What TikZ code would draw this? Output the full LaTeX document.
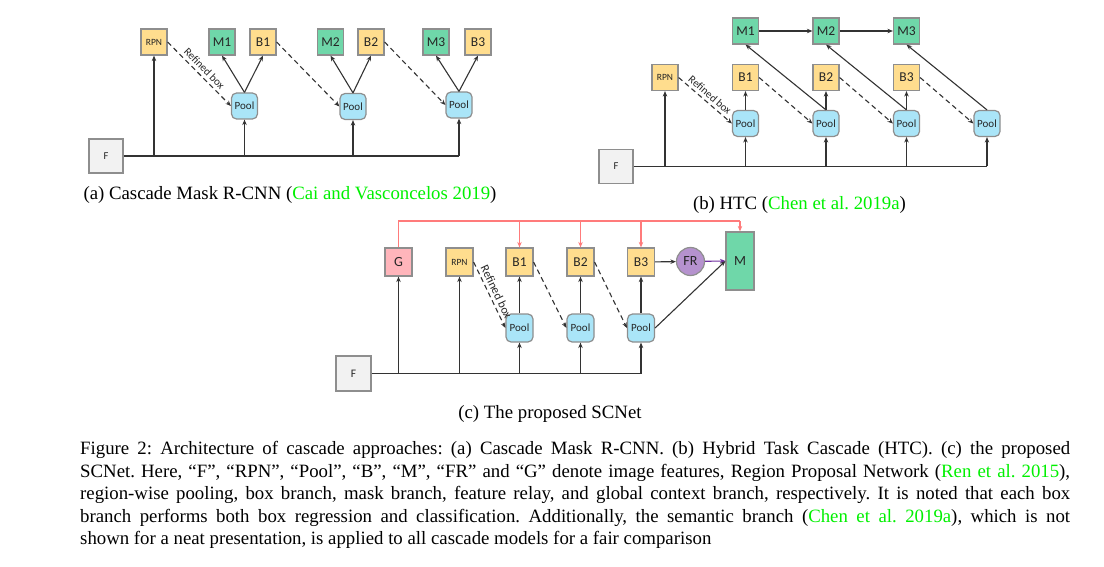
\documentclass[tikz,border=0pt]{standalone}
\usepackage{fontspec}
\setmainfont{Liberation Serif}
\setsansfont{Carlito}
\usetikzlibrary{arrows.meta, calc}
\definecolor{cBox}{HTML}{FFDD8E}
\definecolor{cMask}{HTML}{6FD7A9}
\definecolor{cPool}{HTML}{AAE5F8}
\definecolor{cFeat}{HTML}{F2F2F2}
\definecolor{cGlob}{HTML}{FFB5BB}
\definecolor{cRelay}{HTML}{B592CE}
\definecolor{cEdge}{HTML}{8E8E8E}
\definecolor{cCtx}{HTML}{FF7B7B}
\definecolor{cPurp}{HTML}{7030A0}
\definecolor{cCite}{HTML}{00F000}
\tikzset{
    x=1pt, y=-1pt, font=\sffamily,
    nd/.style={draw=cEdge, line width=1.2pt, inner sep=0pt, text=black!85,
               minimum width=26pt, minimum height=26pt,
               font=\sffamily\fontsize{13.5}{14}\selectfont},
    bx/.style={nd, fill=cBox},
    msk/.style={nd, fill=cMask},
    smalltxt/.style={font=\sffamily\fontsize{9.5}{10}\selectfont},
    pool/.style={nd, fill=cPool, rounded corners=5pt,
                 font=\sffamily\fontsize{11}{12}\selectfont},
    feat/.style={nd, fill=cFeat, minimum width=34pt, minimum height=34pt,
                 font=\sffamily\fontsize{10.5}{11}\selectfont},
    glob/.style={nd, fill=cGlob, minimum width=27pt, minimum height=28pt},
    relay/.style={nd, circle, fill=cRelay, minimum size=28pt},
    arr/.style={-{Stealth[length=5.5pt, width=4.5pt]}, line width=1.1pt, black!80},
    trunk/.style={line width=1.2pt, black!80},
    dsh/.style={arr, dash pattern=on 5pt off 3.5pt},
    ctx/.style={-{Stealth[length=5.5pt, width=4.5pt]}, line width=1.1pt, cCtx},
    lbl/.style={font=\sffamily\fontsize{11}{12}\selectfont, text=black!85,
                inner sep=1pt, above=2pt},
    captxt/.style={font=\rmfamily\fontsize{18.8}{22.5}\selectfont\frenchspacing,
                   inner sep=0pt},
}

\begin{document}
\begin{tikzpicture}
    \useasboundingbox (0,0) rectangle (1104,567);

    % (a) Cascade Mask R-CNN
    \node[feat] (a-f) at (106,156) {F};
    \node[bx, smalltxt] (a-rpn) at (154,42) {RPN};
    \node[msk] (a-m1) at (222,42) {M1};
    \node[bx] (a-b1) at (263,42) {B1};
    \node[pool] (a-p1) at (244.5,106) {Pool};
    \node[msk] (a-m2) at (330.5,42) {M2};
    \node[bx] (a-b2) at (371,42) {B2};
    \node[pool] (a-p2) at (353,106.5) {Pool};
    \node[msk] (a-m3) at (436,42) {M3};
    \node[bx] (a-b3) at (478,42) {B3};
    \node[pool] (a-p3) at (459,105) {Pool};

    \draw[trunk, line width=1.6pt] (a-f.east) -- (a-f.east -| a-p3);
    \foreach \n in {a-rpn, a-p1, a-p2, a-p3}
        \draw[arr] (a-f.east -| \n) -- (\n.south);
    \foreach \i in {1,2,3} {
        \draw[arr] (a-p\i.north) -- (a-m\i.south);
        \draw[arr] (a-p\i.north) -- (a-b\i.south);
    }
    \draw[dsh] (a-rpn.east) -- node[lbl, sloped] {Refined box} (a-p1.west);
    \draw[dsh] (a-b1.east) -- (a-p2.west);
    \draw[dsh] (a-b2.east) -- (a-p3.west);

    \node[captxt, anchor=base] (a-cap) at (290,200)
        {(a) Cascade Mask R-CNN (\textcolor{cCite}{Cai and Vasconcelos 2019})};

    % (b) HTC
    \node[feat] (b-f) at (616,166.5) {F};
    \node[bx, smalltxt] (b-rpn) at (665,77.5) {RPN};
    \node[msk] (b-m1) at (745.5,31) {M1};
    \node[bx] (b-b1) at (745.5,77.5) {B1};
    \node[pool] (b-p1) at (745.5,123.5) {Pool};
    \node[msk] (b-m2) at (826,31) {M2};
    \node[bx] (b-b2) at (826,77.5) {B2};
    \node[pool] (b-p2) at (826,123.5) {Pool};
    \node[msk] (b-m3) at (906.5,31) {M3};
    \node[bx] (b-b3) at (906.5,77.5) {B3};
    \node[pool] (b-p3) at (906.5,123.5) {Pool};
    \node[pool] (b-p4) at (987,123.5) {Pool};

    \draw[trunk] (b-f.east) -- (b-f.east -| b-p4);
    \foreach \n in {b-rpn, b-p1, b-p2, b-p3, b-p4}
        \draw[arr] (b-f.east -| \n) -- (\n.south);
    \draw[arr] (b-m1) -- (b-m2);
    \draw[arr] (b-m2) -- (b-m3);
    \foreach \i/\j in {1/2, 2/3, 3/4} {
        \draw[arr] (b-p\i.north) -- (b-b\i.south);
        \draw[arr] (b-p\j.north) -- (b-m\i.south);
        \draw[dsh] (b-b\i.east) -- (b-p\j.west);
    }
    \draw[dsh] (b-rpn.east) -- node[lbl, sloped] {Refined box} (b-p1.west);

    \node[captxt, anchor=base] (b-cap) at (799.5,210)
        {(b) HTC (\textcolor{cCite}{Chen et al. 2019a})};

    % (c) SCNet
    \node[feat, minimum width=35pt, minimum height=35pt,
          font=\sffamily\fontsize{11.5}{12}\selectfont] (c-f) at (353.5,373.5) {F};
    \node[glob, font=\sffamily\fontsize{14}{15}\selectfont] (c-g) at (398.5,262) {G};
    \node[bx, smalltxt, minimum width=27pt, minimum height=28pt] (c-rpn) at (459.5,262) {RPN};
    \node[bx, minimum width=27pt, minimum height=28pt] (c-b1) at (519.5,262) {B1};
    \node[pool, minimum width=27pt, minimum height=28pt] (c-p1) at (519.5,328) {Pool};
    \node[bx, minimum width=27pt, minimum height=28pt] (c-b2) at (580.5,262) {B2};
    \node[pool, minimum width=27pt, minimum height=28pt] (c-p2) at (580.5,328) {Pool};
    \node[bx, minimum width=27pt, minimum height=28pt] (c-b3) at (641,262) {B3};
    \node[pool, minimum width=27pt, minimum height=28pt] (c-p3) at (641,328) {Pool};
    \node[relay, font=\sffamily\fontsize{14}{15}\selectfont] (c-fr) at (690.5,261.5) {FR};
    \node[msk, minimum width=28pt, minimum height=58pt,
          font=\sffamily\fontsize{14}{15}\selectfont] (c-m) at (740,261) {M};
    \coordinate (c-top) at (0,221);

    \draw[line width=1.1pt, cCtx] (c-g.north) -- (c-g.north |- c-top) -- (c-m.north |- c-top);
    \foreach \n in {c-b1, c-b2, c-b3, c-m}
        \draw[ctx] (c-top -| \n) -- (\n.north);

    \draw[trunk] (c-f.east) -- (c-f.east -| c-p3);
    \foreach \n in {c-g, c-rpn, c-p1, c-p2, c-p3}
        \draw[arr] (c-f.east -| \n) -- (\n.south);
    \foreach \i in {1,2,3}
        \draw[arr] (c-p\i.north) -- (c-b\i.south);
    \draw[dsh] (c-rpn.east) -- node[lbl, sloped, font=\sffamily\fontsize{12}{13}\selectfont]
        {Refined box} (c-p1.west);
    \draw[dsh] (c-b1.east) -- (c-p2.west);
    \draw[dsh] (c-b2.east) -- (c-p3.west);
    \draw[arr] (c-b3) -- (c-fr);
    \draw[arr, cPurp] (c-fr) -- (c-m.west);
    \draw[arr] (c-p3.east) -- (c-m.west);

    \node[captxt, anchor=base] (c-cap) at (550,418) {(c) The proposed SCNet};

    % caption
    \node[captxt, anchor=north west, text width=990pt, align=justify] (cap) at (80,441.5)
        {Figure 2: Architecture of cascade approaches: (a) Cascade Mask R-CNN. (b) Hybrid Task Cascade (HTC). (c) the proposed\linebreak
         SCNet. Here, “F”, “RPN”, “Pool”, “B”, “M”, “FR” and “G” denote image features, Region Proposal Network (\textcolor{cCite}{Ren et al. 2015}),\linebreak
         region-wise pooling, box branch, mask branch, feature relay, and global context branch, respectively. It is noted that each box\linebreak
         branch performs both box regression and classification. Additionally, the semantic branch (\textcolor{cCite}{Chen et al. 2019a}), which is not\linebreak
         shown for a neat presentation, is applied to all cascade models for a fair comparison};
\end{tikzpicture}
\end{document}
